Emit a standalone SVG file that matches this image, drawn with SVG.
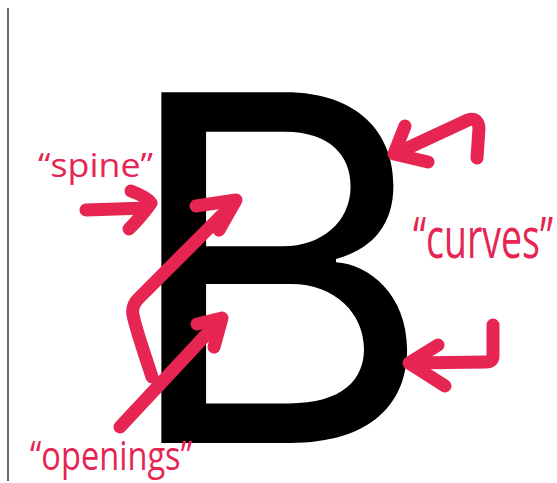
<svg xmlns="http://www.w3.org/2000/svg" width="557" height="483" viewBox="0 0 557 483">
<style>
.lbl{font-family:"Open Sans","Noto Sans",sans-serif;fill:#E62552}
.arr{fill:none;stroke:#E62552;stroke-width:13;stroke-linecap:round;stroke-linejoin:round}
</style>
<rect width="557" height="483" fill="#fff"/>
<line x1="8" y1="8" x2="8" y2="481" stroke="#333" stroke-width="1.5"/>
<g id="letter-B">
<text x="119" y="443" font-family="Inter,'Open Sans',sans-serif" font-size="482" fill="#000">B</text>
</g>
<g id="label-spine">
<text class="lbl" x="38" y="177" font-size="32" textLength="115" lengthAdjust="spacingAndGlyphs">“spine”</text>
</g>
<g id="label-curves">
<text class="lbl" x="413" y="258" font-size="56" textLength="140" lengthAdjust="spacingAndGlyphs">“curves”</text>
</g>
<g id="label-openings">
<text class="lbl" x="30" y="470" font-size="40" textLength="162" lengthAdjust="spacingAndGlyphs">“openings”</text>
</g>
<g id="connectors">
<path class="arr" d="M86,210 L146,208"/>
<path class="arr" d="M131,191 Q147,197 151,203 Q142,216 129,229"/>
<path class="arr" d="M152,377 C145,355 136,330 133,315 Q131,305 140,297 L234,203"/>
<path class="arr" d="M196,206 L236,200 L219,230"/>
<path class="arr" d="M120,427 L218,322"/>
<path class="arr" d="M197,324 L222,318 L214,347"/>
<path class="arr" d="M477,158 L479,128 Q478,117 468,120 L397,153"/>
<path class="arr" d="M405,126 L394,154 L428,162"/>
<path class="arr" d="M493,325 L493,356 Q493,362 486,362 L410,363"/>
<path class="arr" d="M438,345 L409,363 L445,386"/>
</g>
</svg>
